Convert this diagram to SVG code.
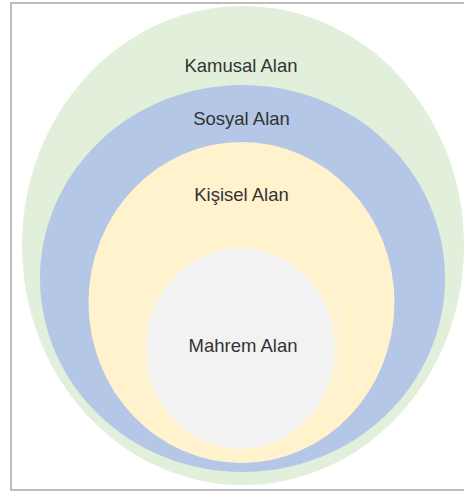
<svg xmlns="http://www.w3.org/2000/svg" width="464" height="492" viewBox="0 0 464 492">
  <style>
    .lbl { font-family: "Liberation Sans", Arial, sans-serif; font-size: 18.5px; fill: #333333; text-anchor: middle; }
  </style>
  <rect x="0" y="0" width="464" height="492" fill="#ffffff"/>
  <rect id="frame" x="11" y="3" width="470" height="487" fill="none" stroke="#a8a8a8" stroke-width="1.5"/>
  <g id="kamusal">
    <ellipse cx="243" cy="245.5" rx="221" ry="239.5" fill="#e2efda"/>
    <text class="lbl" x="241" y="72">Kamusal Alan</text>
  </g>
  <g id="sosyal">
    <ellipse cx="242.5" cy="278.5" rx="202.5" ry="193.5" fill="#b4c7e7"/>
    <text class="lbl" x="241.5" y="125">Sosyal Alan</text>
  </g>
  <g id="kisisel">
    <ellipse cx="241.5" cy="302.5" rx="153" ry="160.5" fill="#fff2cc"/>
    <text class="lbl" x="241.5" y="201">Kişisel Alan</text>
  </g>
  <g id="mahrem">
    <rect x="148" y="301" width="191" height="91" fill="none" stroke="#f4f1ea" stroke-width="1"/>
    <ellipse cx="240.5" cy="348.5" rx="94.5" ry="100.5" fill="#f2f2f2"/>
    <text class="lbl" x="243" y="352">Mahrem Alan</text>
  </g>
  <g id="connectors"/>
</svg>
